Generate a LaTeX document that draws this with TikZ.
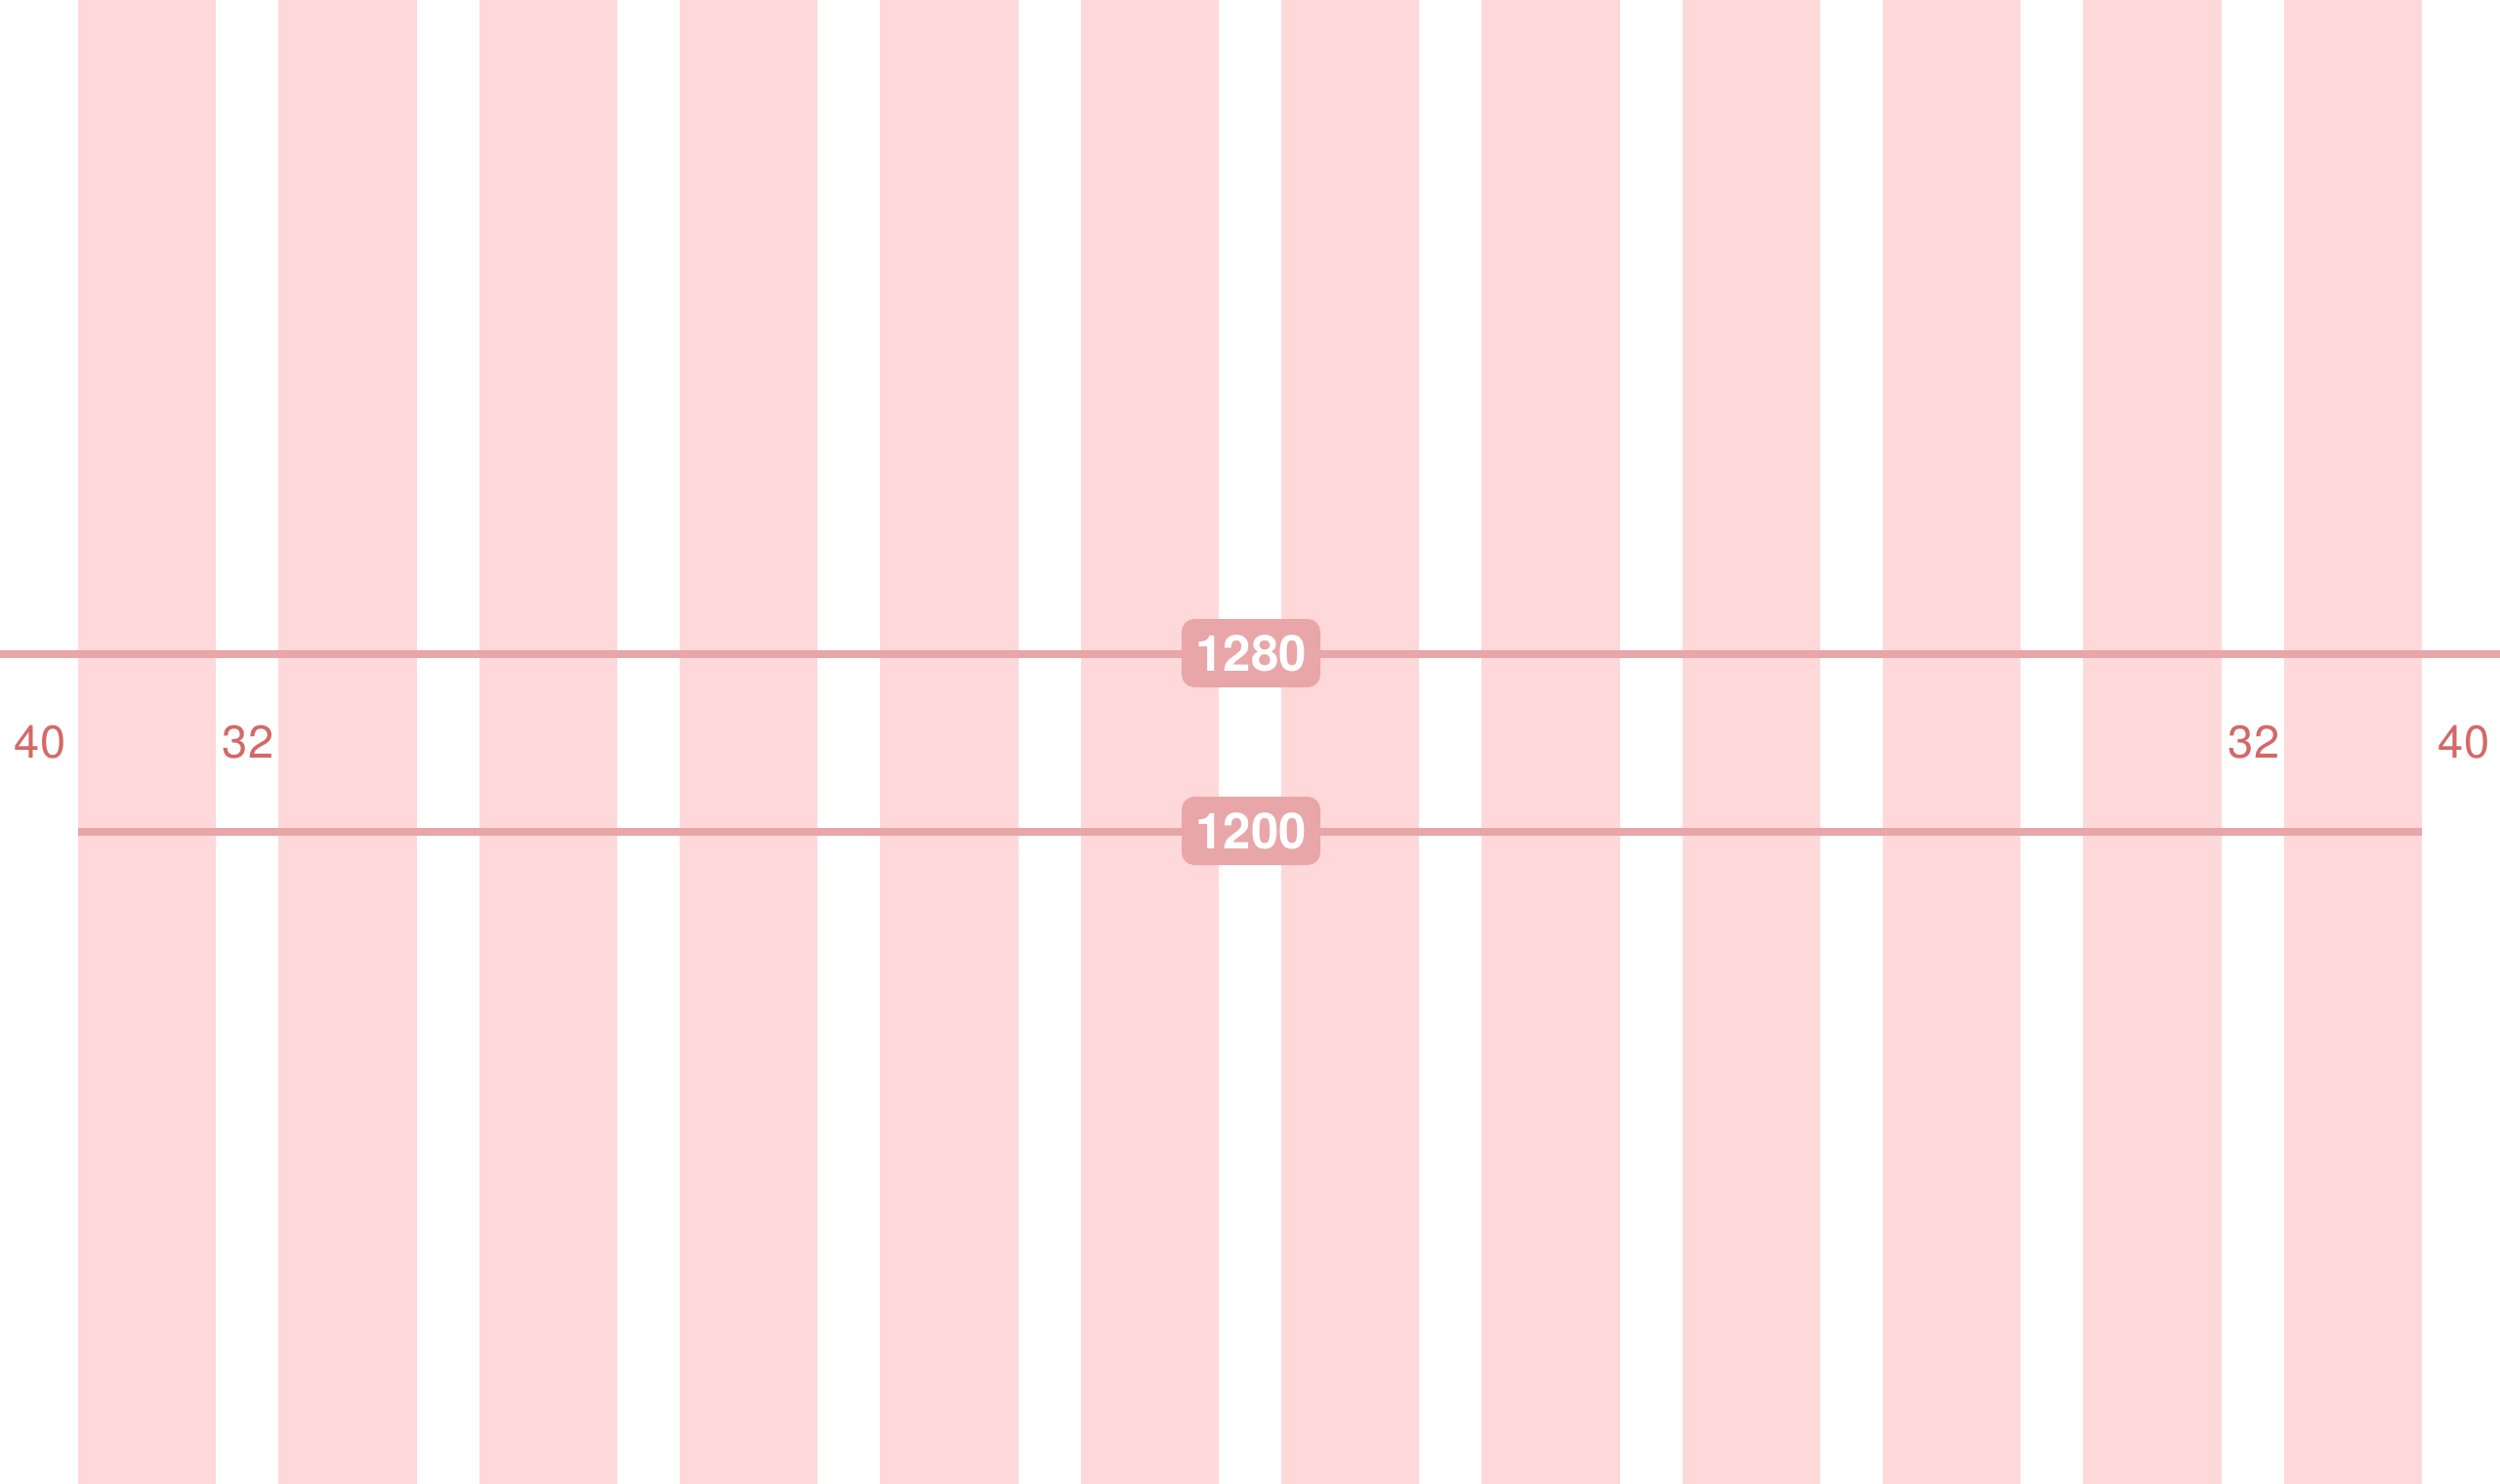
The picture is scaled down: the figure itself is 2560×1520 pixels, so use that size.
\documentclass[tikz,border=0pt]{standalone}
\usepackage{fontspec}
\setmainfont{TeX Gyre Heros}
\definecolor{colfill}{RGB}{255,216,218}
\definecolor{linecol}{RGB}{232,166,168}
\definecolor{labcol}{RGB}{212,104,104}
\tikzset{
  gridcol/.style={fill=colfill, draw=none},
  measline/.style={draw=linecol, line width=8pt},
  measbox/.style={fill=linecol, rounded corners=13pt, minimum width=142pt, minimum height=70pt, inner sep=0pt, text=white, font=\fontsize{51}{60}\selectfont\bfseries},
  marginlab/.style={text=labcol, inner sep=0pt, font=\fontsize{47}{55}\selectfont}
}
\begin{document}
\begin{tikzpicture}[x=1pt,y=-1pt]
\useasboundingbox (0,0) rectangle (2560,1520);
\fill[white] (0,0) rectangle (2560,1520);
\foreach \i in {0,...,11} {
  \path[gridcol] ({80+\i*205.3333},0) rectangle ({80+\i*205.3333+141.3333},1520);
}
\coordinate (l1) at (0,670);
\coordinate (r1) at (2560,670);
\coordinate (l2) at (80,852);
\coordinate (r2) at (2480,852);
\draw[measline] (l1) -- (r1);
\draw[measline] (l2) -- (r2);
\node[measbox] (b1280) at (1281,669) {1280};
\node[measbox] (b1200) at (1281,851) {1200};
\node[marginlab] (ml) at (41,760.5) {40};
\node[marginlab] (gl) at (254,760.5) {32};
\node[marginlab] (gr) at (2308,760.5) {32};
\node[marginlab] (mr) at (2523,760.5) {40};
\end{tikzpicture}
\end{document}
